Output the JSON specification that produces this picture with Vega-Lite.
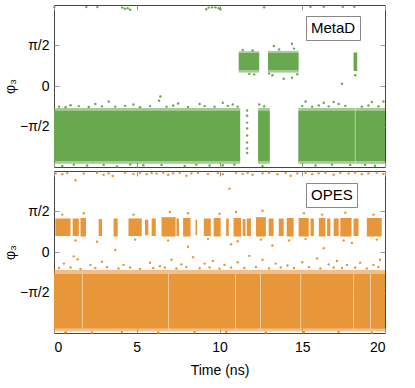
{
  "$schema": "https://vega.github.io/schema/vega-lite/v6.json",
  "padding": {"left": 2, "top": 4, "right": 0, "bottom": 0},
  "spacing": 1,
  "config": {
    "font": "Liberation Sans",
    "view": {"stroke": "#444", "strokeWidth": 1},
    "axis": {
      "domain": false, "grid": false, "tickColor": "#999", "tickSize": -5,
      "labelFont": "Liberation Sans", "labelFontSize": 14, "labelColor": "#000",
      "titleFont": "Liberation Sans", "titleFontSize": 14, "titleFontWeight": "normal", "titleColor": "#000"
    },
    "legend": {
      "orient": "none", "strokeColor": "#888", "fillColor": "white", "padding": 4,
      "labelFont": "Liberation Sans", "labelFontSize": 15, "labelColor": "#000",
      "symbolSize": 0, "symbolOpacity": 0, "symbolStrokeWidth": 0, "labelOffset": -14, "title": null
    }
  },
  "datasets": {
    "metad_bands": [
      {"method": "MetaD", "kind": "core", "t0": 0, "t1": 11.25, "lo": -2.92, "hi": -0.95},
      {"method": "MetaD", "kind": "fringe", "t0": 0, "t1": 11.25, "lo": -0.95, "hi": -0.85},
      {"method": "MetaD", "kind": "fringe", "t0": 0, "t1": 11.25, "lo": -3.02, "hi": -2.92},
      {"method": "MetaD", "kind": "core", "t0": 12.33, "t1": 13.04, "lo": -2.92, "hi": -0.95},
      {"method": "MetaD", "kind": "fringe", "t0": 12.33, "t1": 13.04, "lo": -0.95, "hi": -0.85},
      {"method": "MetaD", "kind": "fringe", "t0": 12.33, "t1": 13.04, "lo": -3.02, "hi": -2.92},
      {"method": "MetaD", "kind": "core", "t0": 14.76, "t1": 18.18, "lo": -2.92, "hi": -0.95},
      {"method": "MetaD", "kind": "fringe", "t0": 14.76, "t1": 18.18, "lo": -0.95, "hi": -0.85},
      {"method": "MetaD", "kind": "fringe", "t0": 14.76, "t1": 18.18, "lo": -3.02, "hi": -2.92},
      {"method": "MetaD", "kind": "core", "t0": 18.21, "t1": 20, "lo": -2.92, "hi": -0.95},
      {"method": "MetaD", "kind": "fringe", "t0": 18.21, "t1": 20, "lo": -0.95, "hi": -0.85},
      {"method": "MetaD", "kind": "fringe", "t0": 18.21, "t1": 20, "lo": -3.02, "hi": -2.92},
      {"method": "MetaD", "kind": "core", "t0": 11.16, "t1": 12.4, "lo": 0.62, "hi": 1.28},
      {"method": "MetaD", "kind": "fringe", "t0": 11.16, "t1": 12.4, "lo": 0.52, "hi": 0.62},
      {"method": "MetaD", "kind": "fringe", "t0": 11.16, "t1": 12.4, "lo": 1.28, "hi": 1.35},
      {"method": "MetaD", "kind": "core", "t0": 12.93, "t1": 14.78, "lo": 0.62, "hi": 1.28},
      {"method": "MetaD", "kind": "fringe", "t0": 12.93, "t1": 14.78, "lo": 0.52, "hi": 0.62},
      {"method": "MetaD", "kind": "fringe", "t0": 12.93, "t1": 14.78, "lo": 1.28, "hi": 1.36},
      {"method": "MetaD", "kind": "core", "t0": 18.1, "t1": 18.32, "lo": 0.58, "hi": 1.3}
    ],
    "metad_pts": [
      {"method": "MetaD", "t": 0.02, "phi": 3.06}, {"method": "MetaD", "t": 1.95, "phi": 3.06},
      {"method": "MetaD", "t": 2.62, "phi": 3.06}, {"method": "MetaD", "t": 4.12, "phi": 3.04},
      {"method": "MetaD", "t": 4.28, "phi": 3.0}, {"method": "MetaD", "t": 4.45, "phi": 3.02},
      {"method": "MetaD", "t": 4.6, "phi": 2.96}, {"method": "MetaD", "t": 9.2, "phi": 2.98},
      {"method": "MetaD", "t": 9.35, "phi": 3.04}, {"method": "MetaD", "t": 9.55, "phi": 3.05},
      {"method": "MetaD", "t": 9.75, "phi": 3.05}, {"method": "MetaD", "t": 9.95, "phi": 3.02},
      {"method": "MetaD", "t": 10.05, "phi": 2.98}, {"method": "MetaD", "t": 12.7, "phi": 3.05},
      {"method": "MetaD", "t": 15.5, "phi": 3.07}, {"method": "MetaD", "t": 16.3, "phi": 3.07},
      {"method": "MetaD", "t": 17.45, "phi": 3.07}, {"method": "MetaD", "t": 18.15, "phi": 3.07},
      {"method": "MetaD", "t": 17.4, "phi": 0.09},
      {"method": "MetaD", "t": 11.67, "phi": -0.95}, {"method": "MetaD", "t": 11.67, "phi": -1.15},
      {"method": "MetaD", "t": 11.67, "phi": -1.42}, {"method": "MetaD", "t": 11.67, "phi": -1.65},
      {"method": "MetaD", "t": 11.67, "phi": -1.92}, {"method": "MetaD", "t": 11.67, "phi": -2.19},
      {"method": "MetaD", "t": 11.67, "phi": -2.42}, {"method": "MetaD", "t": 11.67, "phi": -2.6},
      {"method": "MetaD", "t": 3.3, "phi": -0.6}, {"method": "MetaD", "t": 6.43, "phi": -0.41},
      {"method": "MetaD", "t": 6.35, "phi": -0.57}, {"method": "MetaD", "t": 1.0, "phi": -0.75},
      {"method": "MetaD", "t": 2.5, "phi": -0.7}, {"method": "MetaD", "t": 4.8, "phi": -0.72},
      {"method": "MetaD", "t": 7.5, "phi": -0.68}, {"method": "MetaD", "t": 8.8, "phi": -0.7},
      {"method": "MetaD", "t": 10.2, "phi": -0.65}, {"method": "MetaD", "t": 10.8, "phi": -0.72},
      {"method": "MetaD", "t": 15.2, "phi": -0.6}, {"method": "MetaD", "t": 16.3, "phi": -0.65},
      {"method": "MetaD", "t": 16.9, "phi": -0.62}, {"method": "MetaD", "t": 17.2, "phi": -0.7},
      {"method": "MetaD", "t": 19.2, "phi": -0.62}, {"method": "MetaD", "t": 19.9, "phi": -0.6},
      {"method": "MetaD", "t": 12.4, "phi": -0.72},
      {"method": "MetaD", "t": 0.3, "phi": -0.8}, {"method": "MetaD", "t": 0.7, "phi": -0.82},
      {"method": "MetaD", "t": 1.5, "phi": -0.78}, {"method": "MetaD", "t": 2.1, "phi": -0.81},
      {"method": "MetaD", "t": 2.9, "phi": -0.79}, {"method": "MetaD", "t": 3.7, "phi": -0.8},
      {"method": "MetaD", "t": 4.3, "phi": -0.77}, {"method": "MetaD", "t": 5.2, "phi": -0.82},
      {"method": "MetaD", "t": 5.8, "phi": -0.78}, {"method": "MetaD", "t": 6.8, "phi": -0.8},
      {"method": "MetaD", "t": 7.2, "phi": -0.76}, {"method": "MetaD", "t": 8.1, "phi": -0.81},
      {"method": "MetaD", "t": 9.1, "phi": -0.78}, {"method": "MetaD", "t": 9.7, "phi": -0.8},
      {"method": "MetaD", "t": 10.5, "phi": -0.77}, {"method": "MetaD", "t": 11.1, "phi": -0.8},
      {"method": "MetaD", "t": 12.7, "phi": -0.79}, {"method": "MetaD", "t": 15.0, "phi": -0.78},
      {"method": "MetaD", "t": 15.6, "phi": -0.8}, {"method": "MetaD", "t": 16.0, "phi": -0.76},
      {"method": "MetaD", "t": 16.6, "phi": -0.79}, {"method": "MetaD", "t": 17.6, "phi": -0.77},
      {"method": "MetaD", "t": 18.6, "phi": -0.8}, {"method": "MetaD", "t": 19.0, "phi": -0.76},
      {"method": "MetaD", "t": 19.6, "phi": -0.79},
      {"method": "MetaD", "t": 0.5, "phi": -3.1}, {"method": "MetaD", "t": 2.0, "phi": -3.08},
      {"method": "MetaD", "t": 3.8, "phi": -3.12}, {"method": "MetaD", "t": 5.4, "phi": -3.07},
      {"method": "MetaD", "t": 7.9, "phi": -3.1}, {"method": "MetaD", "t": 9.4, "phi": -3.08},
      {"method": "MetaD", "t": 10.9, "phi": -3.05}, {"method": "MetaD", "t": 12.6, "phi": -3.1},
      {"method": "MetaD", "t": 15.8, "phi": -3.08}, {"method": "MetaD", "t": 17.9, "phi": -3.06},
      {"method": "MetaD", "t": 19.4, "phi": -3.09}, {"method": "MetaD", "t": 1.2, "phi": -3.05},
      {"method": "MetaD", "t": 3.0, "phi": -3.06}, {"method": "MetaD", "t": 4.6, "phi": -3.04},
      {"method": "MetaD", "t": 6.5, "phi": -3.06}, {"method": "MetaD", "t": 8.6, "phi": -3.05},
      {"method": "MetaD", "t": 10.2, "phi": -3.07}, {"method": "MetaD", "t": 16.8, "phi": -3.05},
      {"method": "MetaD", "t": 18.8, "phi": -3.06},
      {"method": "MetaD", "t": 11.4, "phi": 1.4}, {"method": "MetaD", "t": 12.0, "phi": 1.38},
      {"method": "MetaD", "t": 13.28, "phi": 1.55}, {"method": "MetaD", "t": 14.38, "phi": 1.64},
      {"method": "MetaD", "t": 14.5, "phi": 1.45}, {"method": "MetaD", "t": 13.2, "phi": 0.42},
      {"method": "MetaD", "t": 13.88, "phi": 0.28}, {"method": "MetaD", "t": 14.38, "phi": 0.32},
      {"method": "MetaD", "t": 12.1, "phi": 0.45}, {"method": "MetaD", "t": 18.2, "phi": 0.42},
      {"method": "MetaD", "t": 13.6, "phi": 1.42}, {"method": "MetaD", "t": 11.8, "phi": 0.47},
      {"method": "MetaD", "t": 13.0, "phi": 0.48}, {"method": "MetaD", "t": 14.7, "phi": 0.46}
    ],
    "opes_bands": [
      {"method": "OPES", "kind": "core", "t0": 0, "t1": 1.69, "lo": -2.98, "hi": -0.85},
      {"method": "OPES", "kind": "core", "t0": 1.72, "t1": 6.92, "lo": -2.98, "hi": -0.85},
      {"method": "OPES", "kind": "core", "t0": 6.95, "t1": 10.95, "lo": -2.98, "hi": -0.85},
      {"method": "OPES", "kind": "core", "t0": 10.98, "t1": 12.47, "lo": -2.98, "hi": -0.85},
      {"method": "OPES", "kind": "core", "t0": 12.5, "t1": 14.9, "lo": -2.98, "hi": -0.85},
      {"method": "OPES", "kind": "core", "t0": 14.93, "t1": 18.1, "lo": -2.98, "hi": -0.85},
      {"method": "OPES", "kind": "core", "t0": 18.13, "t1": 19.1, "lo": -2.98, "hi": -0.85},
      {"method": "OPES", "kind": "core", "t0": 19.13, "t1": 20, "lo": -2.98, "hi": -0.85},
      {"method": "OPES", "kind": "fringe", "t0": 0, "t1": 20, "lo": -0.85, "hi": -0.7},
      {"method": "OPES", "kind": "fringe", "t0": 0, "t1": 20, "lo": -3.08, "hi": -2.98},
      {"method": "OPES", "kind": "core", "t0": 0.08, "t1": 1.0, "lo": 0.62, "hi": 1.3},
      {"method": "OPES", "kind": "core", "t0": 1.13, "t1": 1.5, "lo": 0.62, "hi": 1.3},
      {"method": "OPES", "kind": "core", "t0": 1.6, "t1": 1.93, "lo": 0.6, "hi": 1.32},
      {"method": "OPES", "kind": "core", "t0": 2.7, "t1": 2.9, "lo": 0.62, "hi": 1.28},
      {"method": "OPES", "kind": "core", "t0": 3.6, "t1": 3.85, "lo": 0.6, "hi": 1.3},
      {"method": "OPES", "kind": "core", "t0": 4.5, "t1": 5.3, "lo": 0.62, "hi": 1.3},
      {"method": "OPES", "kind": "core", "t0": 5.5, "t1": 5.7, "lo": 0.65, "hi": 1.25},
      {"method": "OPES", "kind": "core", "t0": 5.9, "t1": 6.15, "lo": 0.62, "hi": 1.3},
      {"method": "OPES", "kind": "core", "t0": 6.5, "t1": 7.35, "lo": 0.6, "hi": 1.35},
      {"method": "OPES", "kind": "core", "t0": 7.4, "t1": 7.55, "lo": 0.62, "hi": 1.3},
      {"method": "OPES", "kind": "core", "t0": 7.8, "t1": 8.25, "lo": 0.6, "hi": 1.32},
      {"method": "OPES", "kind": "core", "t0": 8.55, "t1": 8.65, "lo": 0.65, "hi": 1.25},
      {"method": "OPES", "kind": "core", "t0": 9.05, "t1": 9.47, "lo": 0.62, "hi": 1.3},
      {"method": "OPES", "kind": "core", "t0": 9.65, "t1": 10.07, "lo": 0.6, "hi": 1.32},
      {"method": "OPES", "kind": "core", "t0": 10.4, "t1": 10.56, "lo": 0.62, "hi": 1.3},
      {"method": "OPES", "kind": "core", "t0": 10.85, "t1": 11.3, "lo": 0.6, "hi": 1.32},
      {"method": "OPES", "kind": "core", "t0": 11.4, "t1": 11.57, "lo": 0.62, "hi": 1.28},
      {"method": "OPES", "kind": "core", "t0": 11.65, "t1": 11.9, "lo": 0.62, "hi": 1.3},
      {"method": "OPES", "kind": "core", "t0": 12.2, "t1": 12.8, "lo": 0.6, "hi": 1.35},
      {"method": "OPES", "kind": "core", "t0": 12.97, "t1": 13.27, "lo": 0.62, "hi": 1.3},
      {"method": "OPES", "kind": "core", "t0": 13.58, "t1": 13.88, "lo": 0.62, "hi": 1.3},
      {"method": "OPES", "kind": "core", "t0": 14.06, "t1": 14.48, "lo": 0.6, "hi": 1.32},
      {"method": "OPES", "kind": "core", "t0": 14.78, "t1": 15.39, "lo": 0.6, "hi": 1.32},
      {"method": "OPES", "kind": "core", "t0": 15.5, "t1": 15.7, "lo": 0.62, "hi": 1.3},
      {"method": "OPES", "kind": "core", "t0": 16.0, "t1": 16.4, "lo": 0.6, "hi": 1.32},
      {"method": "OPES", "kind": "core", "t0": 16.5, "t1": 16.7, "lo": 0.62, "hi": 1.3},
      {"method": "OPES", "kind": "core", "t0": 16.9, "t1": 17.2, "lo": 0.62, "hi": 1.3},
      {"method": "OPES", "kind": "core", "t0": 17.3, "t1": 17.98, "lo": 0.6, "hi": 1.32},
      {"method": "OPES", "kind": "core", "t0": 18.1, "t1": 18.4, "lo": 0.62, "hi": 1.3},
      {"method": "OPES", "kind": "core", "t0": 18.9, "t1": 19.8, "lo": 0.6, "hi": 1.32}
    ],
    "opes_pts": [
      {"method": "OPES", "t": 0.1, "phi": 3.05}, {"method": "OPES", "t": 0.5, "phi": 3.02},
      {"method": "OPES", "t": 0.8, "phi": 3.06}, {"method": "OPES", "t": 1.3, "phi": 2.78},
      {"method": "OPES", "t": 1.8, "phi": 3.04}, {"method": "OPES", "t": 2.6, "phi": 3.07},
      {"method": "OPES", "t": 3.0, "phi": 3.0}, {"method": "OPES", "t": 3.3, "phi": 3.05},
      {"method": "OPES", "t": 3.55, "phi": 2.95}, {"method": "OPES", "t": 4.3, "phi": 3.06},
      {"method": "OPES", "t": 4.8, "phi": 3.03}, {"method": "OPES", "t": 5.2, "phi": 3.07},
      {"method": "OPES", "t": 5.6, "phi": 3.02}, {"method": "OPES", "t": 5.9, "phi": 3.06},
      {"method": "OPES", "t": 6.2, "phi": 3.04}, {"method": "OPES", "t": 6.6, "phi": 3.07},
      {"method": "OPES", "t": 6.9, "phi": 3.0}, {"method": "OPES", "t": 7.2, "phi": 3.05},
      {"method": "OPES", "t": 7.6, "phi": 3.06}, {"method": "OPES", "t": 8.0, "phi": 2.96},
      {"method": "OPES", "t": 8.3, "phi": 3.05}, {"method": "OPES", "t": 8.7, "phi": 3.07},
      {"method": "OPES", "t": 9.3, "phi": 3.03}, {"method": "OPES", "t": 9.9, "phi": 3.06},
      {"method": "OPES", "t": 10.2, "phi": 3.02}, {"method": "OPES", "t": 10.6, "phi": 2.45},
      {"method": "OPES", "t": 11.0, "phi": 3.06}, {"method": "OPES", "t": 11.4, "phi": 3.03},
      {"method": "OPES", "t": 11.7, "phi": 3.07}, {"method": "OPES", "t": 12.0, "phi": 3.0},
      {"method": "OPES", "t": 12.6, "phi": 3.05}, {"method": "OPES", "t": 13.0, "phi": 3.07},
      {"method": "OPES", "t": 13.5, "phi": 3.02}, {"method": "OPES", "t": 14.0, "phi": 3.06},
      {"method": "OPES", "t": 14.3, "phi": 2.96}, {"method": "OPES", "t": 14.7, "phi": 3.05},
      {"method": "OPES", "t": 15.2, "phi": 3.07}, {"method": "OPES", "t": 15.6, "phi": 3.02},
      {"method": "OPES", "t": 16.0, "phi": 3.05}, {"method": "OPES", "t": 16.4, "phi": 3.07},
      {"method": "OPES", "t": 16.9, "phi": 3.0}, {"method": "OPES", "t": 17.3, "phi": 3.06},
      {"method": "OPES", "t": 17.8, "phi": 3.04}, {"method": "OPES", "t": 18.2, "phi": 3.07},
      {"method": "OPES", "t": 18.6, "phi": 3.02}, {"method": "OPES", "t": 19.0, "phi": 3.05},
      {"method": "OPES", "t": 19.5, "phi": 3.07}, {"method": "OPES", "t": 19.9, "phi": 3.03},
      {"method": "OPES", "t": 3.7, "phi": 0.08}, {"method": "OPES", "t": 1.19, "phi": -0.17},
      {"method": "OPES", "t": 1.43, "phi": -0.28}, {"method": "OPES", "t": 0.6, "phi": -0.45},
      {"method": "OPES", "t": 2.2, "phi": -0.5}, {"method": "OPES", "t": 2.9, "phi": -0.38},
      {"method": "OPES", "t": 4.2, "phi": -0.5}, {"method": "OPES", "t": 5.8, "phi": -0.42},
      {"method": "OPES", "t": 6.4, "phi": -0.55}, {"method": "OPES", "t": 7.1, "phi": -0.3},
      {"method": "OPES", "t": 7.7, "phi": -0.48}, {"method": "OPES", "t": 8.4, "phi": -0.2},
      {"method": "OPES", "t": 9.1, "phi": -0.45}, {"method": "OPES", "t": 9.6, "phi": -0.35},
      {"method": "OPES", "t": 10.3, "phi": -0.5}, {"method": "OPES", "t": 11.1, "phi": -0.4},
      {"method": "OPES", "t": 11.8, "phi": -0.15}, {"method": "OPES", "t": 12.6, "phi": -0.3},
      {"method": "OPES", "t": 13.4, "phi": -0.45}, {"method": "OPES", "t": 14.1, "phi": -0.52},
      {"method": "OPES", "t": 15.0, "phi": -0.4}, {"method": "OPES", "t": 15.9, "phi": -0.25},
      {"method": "OPES", "t": 16.6, "phi": -0.48}, {"method": "OPES", "t": 17.1, "phi": -0.35},
      {"method": "OPES", "t": 17.7, "phi": -0.5}, {"method": "OPES", "t": 18.5, "phi": -0.42},
      {"method": "OPES", "t": 19.3, "phi": -0.5}, {"method": "OPES", "t": 19.7, "phi": -0.3},
      {"method": "OPES", "t": 0.3, "phi": -0.62}, {"method": "OPES", "t": 1.0, "phi": -0.6},
      {"method": "OPES", "t": 1.6, "phi": -0.66}, {"method": "OPES", "t": 2.5, "phi": -0.62},
      {"method": "OPES", "t": 3.2, "phi": -0.58}, {"method": "OPES", "t": 3.9, "phi": -0.64},
      {"method": "OPES", "t": 4.6, "phi": -0.6}, {"method": "OPES", "t": 5.2, "phi": -0.66},
      {"method": "OPES", "t": 6.0, "phi": -0.62}, {"method": "OPES", "t": 6.7, "phi": -0.6},
      {"method": "OPES", "t": 7.4, "phi": -0.64}, {"method": "OPES", "t": 8.0, "phi": -0.58},
      {"method": "OPES", "t": 8.8, "phi": -0.63}, {"method": "OPES", "t": 9.4, "phi": -0.6},
      {"method": "OPES", "t": 10.0, "phi": -0.65}, {"method": "OPES", "t": 10.7, "phi": -0.6},
      {"method": "OPES", "t": 11.5, "phi": -0.62}, {"method": "OPES", "t": 12.2, "phi": -0.58},
      {"method": "OPES", "t": 13.0, "phi": -0.64}, {"method": "OPES", "t": 13.7, "phi": -0.6},
      {"method": "OPES", "t": 14.5, "phi": -0.62}, {"method": "OPES", "t": 15.4, "phi": -0.58},
      {"method": "OPES", "t": 16.1, "phi": -0.64}, {"method": "OPES", "t": 16.9, "phi": -0.6},
      {"method": "OPES", "t": 17.4, "phi": -0.62}, {"method": "OPES", "t": 18.2, "phi": -0.6},
      {"method": "OPES", "t": 18.9, "phi": -0.64}, {"method": "OPES", "t": 19.6, "phi": -0.58},
      {"method": "OPES", "t": 0.7, "phi": -3.11}, {"method": "OPES", "t": 2.3, "phi": -3.12},
      {"method": "OPES", "t": 4.1, "phi": -3.1}, {"method": "OPES", "t": 6.3, "phi": -3.12},
      {"method": "OPES", "t": 8.5, "phi": -3.11}, {"method": "OPES", "t": 10.4, "phi": -3.1},
      {"method": "OPES", "t": 12.8, "phi": -3.12}, {"method": "OPES", "t": 15.1, "phi": -3.11},
      {"method": "OPES", "t": 17.2, "phi": -3.1}, {"method": "OPES", "t": 19.2, "phi": -3.12},
      {"method": "OPES", "t": 8.1, "phi": 0.2}, {"method": "OPES", "t": 10.7, "phi": 0.3},
      {"method": "OPES", "t": 13.2, "phi": 0.25}, {"method": "OPES", "t": 16.3, "phi": 0.15},
      {"method": "OPES", "t": 18.0, "phi": 0.35}, {"method": "OPES", "t": 2.6, "phi": 0.4},
      {"method": "OPES", "t": 0.5, "phi": 1.45}, {"method": "OPES", "t": 1.8, "phi": 1.5},
      {"method": "OPES", "t": 4.8, "phi": 1.45}, {"method": "OPES", "t": 7.0, "phi": 1.55},
      {"method": "OPES", "t": 8.1, "phi": 1.5}, {"method": "OPES", "t": 10.0, "phi": 1.48},
      {"method": "OPES", "t": 11.0, "phi": 1.55}, {"method": "OPES", "t": 12.6, "phi": 1.6},
      {"method": "OPES", "t": 15.1, "phi": 1.5}, {"method": "OPES", "t": 16.2, "phi": 1.45},
      {"method": "OPES", "t": 17.6, "phi": 1.52}, {"method": "OPES", "t": 19.3, "phi": 1.45},
      {"method": "OPES", "t": 1.3, "phi": 0.45}, {"method": "OPES", "t": 4.9, "phi": 0.48},
      {"method": "OPES", "t": 6.9, "phi": 0.45}, {"method": "OPES", "t": 9.3, "phi": 0.5},
      {"method": "OPES", "t": 11.1, "phi": 0.42}, {"method": "OPES", "t": 12.5, "phi": 0.48},
      {"method": "OPES", "t": 14.2, "phi": 0.45}, {"method": "OPES", "t": 15.2, "phi": 0.5},
      {"method": "OPES", "t": 17.5, "phi": 0.45}, {"method": "OPES", "t": 19.5, "phi": 0.48}
    ]
  },
  "resolve": {"scale": {"color": "independent"}, "legend": {"color": "independent"}},
  "vconcat": [
    {
      "width": 331, "height": 162,
      "resolve": {"axis": {"x": "independent", "y": "independent"}},
      "layer": [
        {
          "data": {"name": "metad_bands"},
          "mark": {"type": "rect"},
          "encoding": {
            "x": {"field": "t0", "type": "quantitative", "scale": {"domain": [0, 20], "nice": false, "zero": false},
                  "axis": {"orient": "bottom", "values": [0, 5, 10, 15, 20], "labels": false, "title": null}},
            "x2": {"field": "t1"},
            "y": {"field": "lo", "type": "quantitative", "scale": {"domain": [-3.14159, 3.14159], "nice": false, "zero": false},
                  "axis": {"orient": "left", "values": [-1.5708, 0, 1.5708], "title": "φ₃", "titlePadding": 2, "labelPadding": 10,
                           "labelExpr": "datum.value > 0.1 ? 'π/2' : datum.value < -0.1 ? '−π/2' : '0'"}},
            "y2": {"field": "hi"},
            "color": {"field": "method", "type": "nominal", "scale": {"domain": ["MetaD"], "range": ["#6aa84f"]},
                      "legend": {"legendX": 252, "legendY": 11}},
            "opacity": {"field": "kind", "type": "nominal", "scale": {"domain": ["core", "fringe"], "range": [1, 0.6]}, "legend": null}
          }
        },
        {
          "data": {"name": "metad_pts"},
          "mark": {"type": "circle", "size": 6, "opacity": 1},
          "encoding": {
            "x": {"field": "t", "type": "quantitative",
                  "axis": {"orient": "top", "values": [0, 5, 10, 15, 20], "labels": false, "title": null}},
            "y": {"field": "phi", "type": "quantitative",
                  "axis": {"orient": "right", "values": [-1.5708, 0, 1.5708], "labels": false, "title": null}},
            "color": {"field": "method", "type": "nominal"}
          }
        }
      ]
    },
    {
      "width": 331, "height": 162,
      "resolve": {"axis": {"x": "independent", "y": "independent"}},
      "layer": [
        {
          "data": {"name": "opes_bands"},
          "mark": {"type": "rect"},
          "encoding": {
            "x": {"field": "t0", "type": "quantitative", "scale": {"domain": [0, 20], "nice": false, "zero": false},
                  "axis": {"orient": "bottom", "values": [0, 5, 10, 15, 20], "title": "Time (ns)", "labelPadding": 12, "titlePadding": 9}},
            "x2": {"field": "t1"},
            "y": {"field": "lo", "type": "quantitative", "scale": {"domain": [-3.14159, 3.14159], "nice": false, "zero": false},
                  "axis": {"orient": "left", "values": [-1.5708, 0, 1.5708], "title": "φ₃", "titlePadding": 2, "labelPadding": 10,
                           "labelExpr": "datum.value > 0.1 ? 'π/2' : datum.value < -0.1 ? '−π/2' : '0'"}},
            "y2": {"field": "hi"},
            "color": {"field": "method", "type": "nominal", "scale": {"domain": ["OPES"], "range": ["#e8963a"]},
                      "legend": {"legendX": 252, "legendY": 12}},
            "opacity": {"field": "kind", "type": "nominal", "scale": {"domain": ["core", "fringe"], "range": [1, 0.6]}, "legend": null}
          }
        },
        {
          "data": {"name": "opes_pts"},
          "mark": {"type": "circle", "size": 6, "opacity": 1},
          "encoding": {
            "x": {"field": "t", "type": "quantitative",
                  "axis": {"orient": "top", "values": [0, 5, 10, 15, 20], "labels": false, "title": null}},
            "y": {"field": "phi", "type": "quantitative",
                  "axis": {"orient": "right", "values": [-1.5708, 0, 1.5708], "labels": false, "title": null}},
            "color": {"field": "method", "type": "nominal"}
          }
        }
      ]
    }
  ]
}
